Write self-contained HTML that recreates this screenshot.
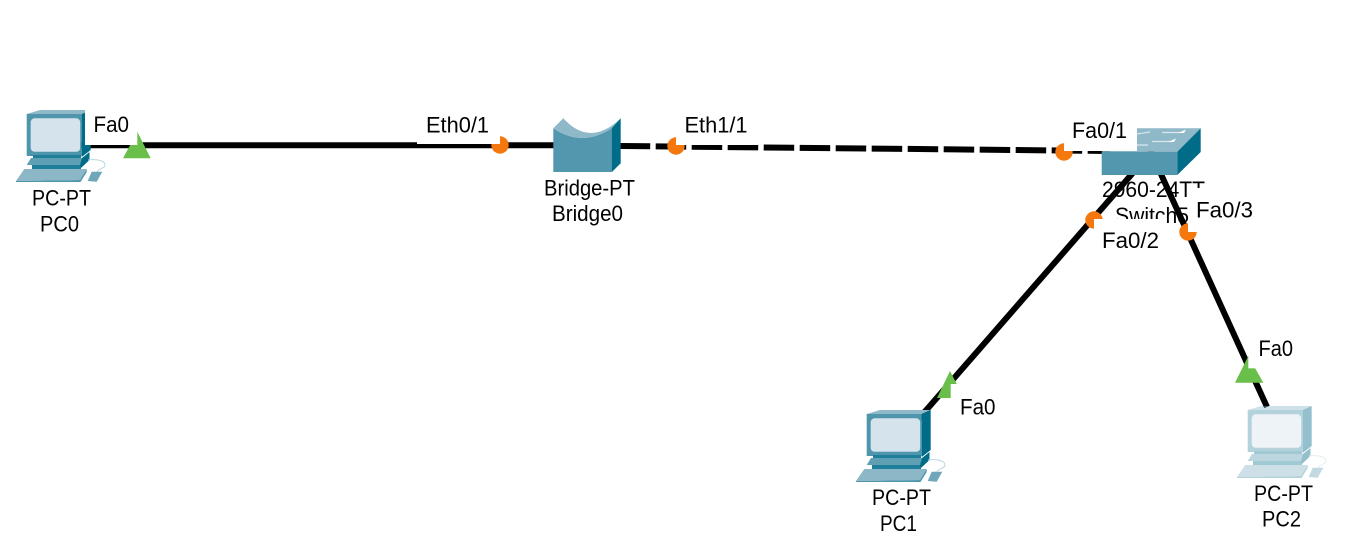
<!DOCTYPE html>
<html><head><meta charset="utf-8">
<style>
html,body{margin:0;padding:0;background:#fff;width:1365px;height:548px;overflow:hidden}
svg{display:block}
text{font-family:"Liberation Sans",sans-serif;font-size:22.5px;fill:#000}
</style></head>
<body>
<svg width="1365" height="548" viewBox="0 0 1365 548" xmlns="http://www.w3.org/2000/svg">
<defs>
<g id="pc">
  <polygon points="26.7,114 40,110 90.7,110 81.7,114" fill="#8fb9c9"/>
  <rect x="26.7" y="114" width="55" height="42" fill="#4f96ad"/>
  <polygon points="81.7,114 90.7,110 90.7,150 81.7,157" fill="#006c88"/>
  <rect x="30.7" y="118.3" width="49.5" height="33.5" rx="4" fill="#d5e4ec"/>
  <rect x="33" y="155" width="48" height="4" fill="#1f7f9a"/>
  <polygon points="26.7,165 31,158 84,158 80,165" fill="#5f9fb3"/>
  <rect x="32" y="165" width="49" height="4" fill="#1f7f9a"/>
  <polygon points="82,158 89.5,152 89.5,160 81,168 80,165" fill="#006c88"/>
  <path d="M88,160 C95,159 105,160 105,165 C105,169 98,168 97,172" fill="none" stroke="#b9d7e2" stroke-width="1"/>
  <polygon points="16,181 24.3,169 86.7,169 80,180" fill="#8cb7c7"/>
  <polygon points="16,181 80,180 86.7,169 86.7,172 80.5,182 16,182" fill="#4f96ad"/>
  <polygon points="87.7,181 91.7,171.7 102.3,171.7 96.7,181.7" fill="#6fa6b9"/>
</g>
</defs>

<!-- device labels -->
<text x="32" y="205.5" textLength="59" lengthAdjust="spacingAndGlyphs">PC-PT</text>
<text x="40" y="231.5" textLength="39" lengthAdjust="spacingAndGlyphs">PC0</text>
<text x="544" y="195.5" textLength="91" lengthAdjust="spacingAndGlyphs">Bridge-PT</text>
<text x="552" y="221" textLength="71" lengthAdjust="spacingAndGlyphs">Bridge0</text>
<text x="1102" y="197" textLength="103" lengthAdjust="spacingAndGlyphs">2960-24TT</text>
<text x="1115" y="223" textLength="74" lengthAdjust="spacingAndGlyphs">Switch5</text>
<text x="872" y="505" textLength="59" lengthAdjust="spacingAndGlyphs">PC-PT</text>
<text x="880" y="531" textLength="37" lengthAdjust="spacingAndGlyphs">PC1</text>
<text x="1254" y="501" textLength="59" lengthAdjust="spacingAndGlyphs">PC-PT</text>
<text x="1262" y="526.5" textLength="39" lengthAdjust="spacingAndGlyphs">PC2</text>

<!-- links -->
<line x1="70" y1="145.2" x2="570" y2="145.2" stroke="#000" stroke-width="6"/>
<line x1="619.7" y1="146" x2="1110" y2="151" stroke="#000" stroke-width="6" stroke-dasharray="30.5 5.5"/>
<line x1="1145" y1="159" x2="915" y2="423" stroke="#000" stroke-width="6"/>
<line x1="1150" y1="150" x2="1267" y2="407" stroke="#000" stroke-width="6"/>

<!-- PCs -->
<use href="#pc"/>
<use href="#pc" x="840" y="300"/>
<use href="#pc" x="1221" y="296" opacity="0.42"/>

<!-- bridge -->
<path d="M553.3,128.3 Q582,147.7 611.7,128.3 L611.7,172 L553.3,172 Z" fill="#5397af"/>
<path d="M553.3,128.3 L563.3,118.3 Q590,147.7 620.7,118.3 L611.7,128.3 Q582,147.7 553.3,128.3 Z" fill="#8fb9c9"/>
<polygon points="611.7,128.3 620.7,118.3 620.7,163.3 611.7,172.3" fill="#006c88"/>

<!-- switch -->
<polygon points="1101.7,151.7 1125,128.3 1200.7,128.3 1177.3,151.7" fill="#8fb9c9"/>
<rect x="1101.7" y="151.7" width="75.6" height="23.3" fill="#5397af"/>
<polygon points="1177.3,151.7 1200.7,128.3 1200.7,152 1177.3,175" fill="#006c88"/>
<path d="M1162,132.5 L1180,132.5 M1152,141.5 L1170,141.5 M1137,134 L1150,132 M1137,145 L1148,145" stroke="#d9e8ee" stroke-width="1.2" fill="none"/>
<polygon points="1178,133 1186,129.5 1184,133" fill="#fff"/>
<polygon points="1168,142 1176,138.5 1174,142" fill="#fff"/>

<!-- port markers -->
<polygon points="137.3,131.7 150.7,158.3 123,158.3" fill="#6abf4b"/>
<polygon points="950,371 964,398 937,398" fill="#6abf4b"/>
<polygon points="1248.3,356 1263.3,382.7 1235,382.7" fill="#6abf4b"/>
<circle cx="500" cy="145" r="8.7" fill="#f5780f"/>
<circle cx="676" cy="146" r="8.7" fill="#f5780f"/>
<circle cx="1064" cy="152" r="8.7" fill="#f5780f"/>
<circle cx="1094" cy="220" r="8.7" fill="#f5780f"/>
<circle cx="1188" cy="232" r="8.7" fill="#f5780f"/>

<!-- port label backgrounds -->
<rect x="85" y="105" width="52.3" height="40" fill="#fff"/>
<rect x="417" y="108" width="83" height="36" fill="#fff"/>
<rect x="676" y="108" width="82" height="37" fill="#fff"/>
<rect x="1064" y="115" width="73" height="36" fill="#fff"/>
<rect x="1094" y="219" width="71" height="36" fill="#fff"/>
<rect x="1188" y="188" width="72" height="44" fill="#fff"/>
<rect x="950.7" y="384" width="50" height="36" fill="#fff"/>
<rect x="1248.3" y="334" width="50" height="34.3" fill="#fff"/>

<!-- port labels -->
<text x="93.5" y="132" textLength="35.5" lengthAdjust="spacingAndGlyphs">Fa0</text>
<text x="426" y="132.5" textLength="63" lengthAdjust="spacingAndGlyphs">Eth0/1</text>
<text x="684.5" y="132.5" textLength="63" lengthAdjust="spacingAndGlyphs">Eth1/1</text>
<text x="1072" y="138" textLength="55" lengthAdjust="spacingAndGlyphs">Fa0/1</text>
<text x="1102" y="248" textLength="57" lengthAdjust="spacingAndGlyphs">Fa0/2</text>
<text x="1196" y="217.5" textLength="57" lengthAdjust="spacingAndGlyphs">Fa0/3</text>
<text x="960" y="414.5" textLength="35.5" lengthAdjust="spacingAndGlyphs">Fa0</text>
<text x="1258.5" y="356" textLength="34.5" lengthAdjust="spacingAndGlyphs">Fa0</text>
</svg>
</body></html>
